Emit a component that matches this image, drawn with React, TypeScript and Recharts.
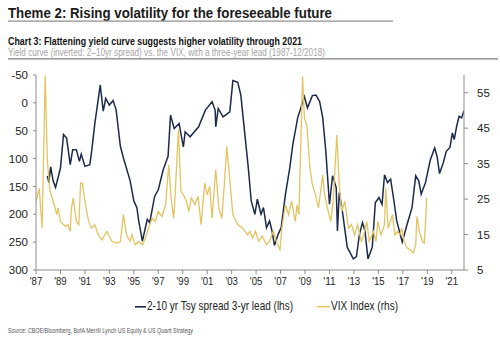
import React from "react";
import { ComposedChart, Line, XAxis, YAxis } from "recharts";

// 2-10yr Tsy spread, 3-yr lead (bp, lhs, inverted)
const spreadYears = [
  1987.93, 1988.05, 1988.2, 1988.4, 1988.6, 1989.0, 1989.25, 1989.5, 1989.8, 1990.0,
  1990.3, 1990.55, 1990.7, 1991.0, 1991.4, 1991.55, 1991.8, 1992.25, 1992.5, 1992.7,
  1993.0, 1993.3, 1993.55, 1993.9, 1994.15, 1994.7, 1995.0, 1995.25, 1995.4, 1995.7,
  1996.1, 1996.3, 1996.7, 1997.0, 1997.4, 1997.8, 1998.0, 1998.3, 1998.7, 1999.05,
  1999.2, 1999.6, 2000.3, 2000.85, 2001.4, 2001.65, 2001.7, 2001.9, 2002.3, 2002.85,
  2003.1, 2003.5, 2003.75, 2004.1, 2004.35, 2004.6, 2004.9, 2005.1, 2005.4, 2005.6,
  2005.85, 2006.1, 2006.3, 2006.5, 2006.8, 2007.05, 2007.4, 2007.75, 2008.0, 2008.4,
  2008.7, 2008.95, 2009.2, 2009.6, 2009.9, 2010.2, 2010.45, 2010.7, 2011.0, 2011.25,
  2011.55, 2011.65, 2011.8, 2012.05, 2012.45, 2012.95, 2013.2, 2013.45, 2013.7, 2013.9,
  2014.15, 2014.5, 2014.75, 2015.05, 2015.3, 2015.5, 2015.75, 2016.0, 2016.25, 2016.5,
  2016.95, 2017.35, 2017.75, 2018.05, 2018.3, 2018.5, 2018.85, 2019.25, 2019.6, 2019.8,
  2020.0, 2020.3, 2020.55, 2020.85, 2021.05, 2021.2, 2021.4, 2021.6, 2021.8, 2022.0,
];
const spreadValues = [
  131, 143, 115, 140, 152, 117, 57, 63, 111, 84,
  84, 105, 92, 114, 111, 87, 39, -32, 15, -8,
  4, -4, 12, 78, 99, 140, 176, 188, 212, 248,
  209, 215, 168, 156, 120, 96, 22, 46, 37, 79,
  52, 61, 43, 13, -2, 13, 43, 10, 25, 16,
  -40, -37, -14, 61, 114, 176, 200, 173, 200, 188,
  224, 212, 230, 256, 236, 224, 164, 117, 75, 27,
  6, -11, 9, -13, -14, -2, 27, 87, 182, 131,
  152, 230, 161, 194, 259, 280, 276, 236, 215, 230,
  280, 259, 179, 170, 182, 129, 143, 137, 173, 212,
  250, 218, 188, 131, 140, 164, 143, 102, 81, 96,
  127, 108, 87, 80, 54, 66, 42, 24, 27, 14,
];

// VIX Index (rhs)
const vixYears = [
  1987.0, 1987.27, 1987.5, 1987.75, 1987.93, 1988.15, 1988.4, 1988.7, 1988.8, 1989.0,
  1989.4, 1989.6, 1989.8, 1989.9, 1990.05, 1990.3, 1990.5, 1990.65, 1990.8, 1991.0,
  1991.3, 1991.55, 1991.8, 1992.1, 1992.4, 1992.8, 1993.2, 1993.6, 1993.9, 1994.15,
  1994.4, 1994.7, 1994.85, 1995.1, 1995.4, 1995.7, 1995.95, 1996.2, 1996.5, 1996.75,
  1997.0, 1997.3, 1997.6, 1997.85, 1998.05, 1998.25, 1998.35, 1998.65, 1998.85, 1999.05,
  1999.3, 1999.5, 1999.7, 2000.0, 2000.25, 2000.5, 2000.8, 2001.0, 2001.2, 2001.4,
  2001.7, 2001.95, 2002.2, 2002.4, 2002.6, 2002.85, 2003.1, 2003.5, 2003.9, 2004.3,
  2004.5, 2004.7, 2004.95, 2005.2, 2005.5, 2005.85, 2006.1, 2006.4, 2006.7, 2006.95,
  2007.1, 2007.4, 2007.65, 2007.9, 2008.2, 2008.35, 2008.5, 2008.8, 2008.95, 2009.15,
  2009.4, 2009.6, 2009.85, 2010.1, 2010.45, 2010.6, 2010.9, 2011.1, 2011.3, 2011.6,
  2011.8, 2012.0, 2012.25, 2012.55, 2012.8, 2013.05, 2013.3, 2013.6, 2013.8, 2014.05,
  2014.25, 2014.6, 2014.8, 2014.95, 2015.2, 2015.5, 2015.6, 2015.8, 2016.15, 2016.35,
  2016.55, 2016.75, 2016.9, 2017.1, 2017.35, 2017.6, 2017.85, 2018.05, 2018.15, 2018.35,
  2018.6, 2018.75, 2018.85, 2018.95,
];
const vixValues = [
  24.4, 28, 16.8, 59.8, 35.6, 27.2, 24.4, 20.6, 22.5, 18.7,
  17.3, 17.8, 15.9, 22.5, 25.3, 18.7, 17.8, 29.5, 29.5, 24.4,
  18.7, 16.8, 17.8, 14.9, 13.5, 15.9, 13.1, 12.6, 13, 20.6,
  14.9, 13.1, 14.9, 12.1, 13, 12.1, 14, 16.8, 19.6, 18.7,
  21.5, 20.1, 23.4, 34.7, 25.3, 19.6, 24.4, 44.5, 27.2, 26.2,
  24.4, 21.5, 25.3, 23.4, 25.8, 17.8, 29.5, 26.2, 28.6, 19.6,
  33.3, 22.5, 19.6, 29, 39.8, 30.4, 20.6, 17.8, 16.8, 14.9,
  15.9, 14, 15.9, 13.1, 14.6, 12.1, 13.1, 15.9, 12.6, 10.7,
  16.8, 23.4, 20.6, 24.4, 18.7, 23.4, 20.6, 59.6, 47.8, 45.9,
  33.7, 29, 26.2, 22.5, 31.8, 26.2, 21.5, 18.7, 24.4, 43.1,
  29, 21.5, 24.4, 16.8, 17.8, 14.9, 17.8, 13.1, 14.9, 18.7,
  13.1, 15.9, 13.1, 18.7, 14.9, 17.8, 28.1, 16.8, 20.6, 14.9,
  15.9, 14.9, 16.8, 13.1, 11.2, 10.7, 9.8, 12.1, 20.1, 15.9,
  13.1, 12.6, 18.2, 25.3,
];

const yearTicks = [
  1987, 1989, 1991, 1993, 1995, 1997, 1999, 2001, 2003, 2005, 2007, 2009, 2011, 2013,
  2015, 2017, 2019, 2021,
];
const spreadTicks = [-50, 0, 50, 100, 150, 200, 250, 300];
const vixTicks = [5, 15, 25, 35, 45, 55];

const NAVY = "#1c2a4a";
const GOLD = "#e3c462";
const SANS = '"Liberation Sans", Arial, sans-serif';

const spreadData = spreadYears.map((x, i) => ({ x, v: spreadValues[i] }));
const vixData = vixYears.map((x, i) => ({ x, v: vixValues[i] }));

const tickStyle = { fontSize: 11.5, fill: "#222", fontFamily: SANS };

function YearTick(props: any) {
  const { x, y, payload } = props;
  return (
    <text
      x={x}
      y={y + 9}
      textAnchor="middle"
      fontSize={11.5}
      fontFamily={SANS}
      fill="#222"
      textLength={12.5}
      lengthAdjust="spacingAndGlyphs"
    >
      {"'" + String(payload.value).slice(2)}
    </text>
  );
}

function Txt(props: {
  x: number;
  y: number;
  w: number;
  size: number;
  bold?: boolean;
  color: string;
  children: React.ReactNode;
}) {
  return (
    <text
      x={props.x}
      y={props.y}
      fontSize={props.size}
      fontWeight={props.bold ? 700 : 400}
      fill={props.color}
      fontFamily={SANS}
      textLength={props.w}
      lengthAdjust="spacingAndGlyphs"
    >
      {props.children}
    </text>
  );
}

export default function App() {
  return (
    <div
      style={{
        position: "absolute",
        left: 0,
        top: 0,
        width: 500,
        height: 340,
        background: "#fff",
        overflow: "hidden",
      }}
    >
      <div style={{ position: "absolute", left: 0, top: 0 }}>
        <ComposedChart width={500} height={340} margin={{ top: 75, right: 0, bottom: 40, left: 0 }}>
          <XAxis
            dataKey="x"
            type="number"
            domain={[1987, 2022]}
            ticks={yearTicks}
            interval={0}
            height={30}
            stroke="#8c8c8c"
            tickSize={4}
            tick={<YearTick />}
            allowDataOverflow
          />
          <YAxis
            yAxisId="l"
            reversed
            domain={[-50, 300]}
            ticks={spreadTicks}
            interval={0}
            width={36}
            stroke="#8c8c8c"
            tickSize={3}
            tickMargin={5}
            tick={tickStyle}
            allowDataOverflow
          />
          <YAxis
            yAxisId="r"
            orientation="right"
            domain={[5, 60]}
            ticks={vixTicks}
            interval={0}
            width={36}
            stroke="#8c8c8c"
            tickSize={4}
            tickMargin={9}
            tick={tickStyle}
            allowDataOverflow
          />
          <Line
            yAxisId="l"
            data={spreadData}
            dataKey="v"
            type="linear"
            stroke={NAVY}
            strokeWidth={1.5}
            dot={false}
            isAnimationActive={false}
          />
          <Line
            yAxisId="r"
            data={vixData}
            dataKey="v"
            type="linear"
            stroke={GOLD}
            strokeWidth={1.3}
            dot={false}
            isAnimationActive={false}
          />
        </ComposedChart>
      </div>

      <svg width={500} height={340} style={{ position: "absolute", left: 0, top: 0, pointerEvents: "none" }}>
        <Txt x={8} y={18} w={324} size={14.5} bold color="#1a1a1a">
          Theme 2: Rising volatility for the foreseeable future
        </Txt>
        <rect x={8} y={20.5} width={385} height={1.2} fill="#8a8a8a" />
        <Txt x={8} y={45} w={294} size={11} bold color="#111">
          Chart 3: Flattening yield curve suggests higher volatility through 2021
        </Txt>
        <Txt x={8} y={55.5} w={317} size={10} color="#a5a5a5">
          Yield curve (inverted: 2–10yr spread) vs. the VIX, with a three-year lead (1987-12/2018)
        </Txt>
        <rect x={8} y={58} width={490} height={1.6} fill="#9a9a9a" />

        <rect x={135} y={306} width={11} height={1.6} fill={NAVY} />
        <Txt x={147} y={310} w={146} size={12} color="#222">
          2-10 yr Tsy spread 3-yr lead (lhs)
        </Txt>
        <rect x={317} y={306} width={13} height={1.4} fill={GOLD} />
        <Txt x={331} y={310} w={67} size={12} color="#222">
          VIX Index (rhs)
        </Txt>

        <Txt x={8} y={333} w={185} size={6.5} color="#555">
          Source: CBOE/Bloomberg, BofA Merrill Lynch US Equity &amp; US Quant Strategy
        </Txt>
      </svg>
    </div>
  );
}
